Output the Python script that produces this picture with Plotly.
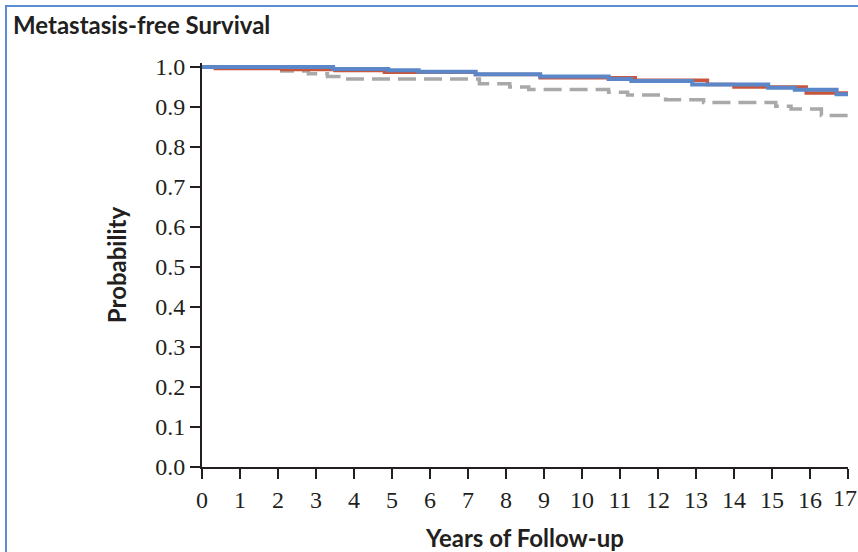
import plotly.graph_objects as go

# Data (Kaplan-Meier style step curves)
blue_t = [0, 3.45, 4.9, 5.7, 7.2, 8.9, 10.7, 11.3, 12.9, 14.9, 15.6, 16.7, 17]
blue_s = [1.0, 0.995, 0.992, 0.988, 0.982, 0.976, 0.970, 0.965, 0.956, 0.948, 0.943, 0.932, 0.932]

red_t = [0, 0.35, 2.1, 3.5, 4.8, 7.2, 8.9, 11.4, 13.3, 14.0, 15.9, 17]
red_s = [1.0, 0.996, 0.994, 0.991, 0.987, 0.981, 0.973, 0.967, 0.956, 0.950, 0.935, 0.935]

gray_t = [0, 1.0, 2.1, 2.8, 3.3, 3.6, 7.3, 8.1, 8.6, 10.7, 11.2, 12.2, 13.2, 15.1, 15.5, 16.3, 17]
gray_s = [1.0, 0.997, 0.990, 0.983, 0.976, 0.970, 0.958, 0.950, 0.944, 0.937, 0.930, 0.918, 0.911, 0.902, 0.895, 0.879, 0.879]

x_ticks = list(range(0, 18))
x_tick_text = [str(v) for v in x_ticks]
y_ticks = [round(i / 10, 1) for i in range(0, 11)]
y_tick_text = [f"{v:.1f}" for v in y_ticks]

fig = go.Figure()
fig.add_trace(go.Scatter(x=gray_t, y=gray_s, mode="lines", line_shape="hv",
                         line=dict(color="#a9a9a9", width=3.5, dash="18px,8px"), hoverinfo="skip"))
fig.add_trace(go.Scatter(x=red_t, y=red_s, mode="lines", line_shape="hv",
                         line=dict(color="#c9553c", width=3.5), hoverinfo="skip"))
fig.add_trace(go.Scatter(x=blue_t, y=blue_s, mode="lines", line_shape="hv",
                         line=dict(color="#5b87c8", width=4), hoverinfo="skip"))

L, R, T, B = 202, 10, 63, 85
W, H = 858, 552
pw, ph = W - L - R, H - T - B

def px_x(p):
    return (p - L) / pw

def px_y(p):
    return (H - B - p) / ph

fig.add_shape(type="rect", xref="paper", yref="paper",
              x0=px_x(6), x1=px_x(880), y0=px_y(580), y1=px_y(6),
              line=dict(color="#5b8bd1", width=2), fillcolor="rgba(0,0,0,0)")

tick_font = dict(family="Liberation Serif", size=24, color="#231f20")

# the last x tick label would overflow the page edge; draw it as an annotation flush with the edge
last_label = dict(text=x_tick_text[-1], xref="paper", yref="paper", x=px_x(858), y=px_y(498),
                  xanchor="right", yanchor="middle", showarrow=False,
                  font=tick_font, borderpad=0)

fig.update_layout(
    width=W, height=H,
    margin=dict(l=L, r=R, t=T, b=B, autoexpand=False),
    paper_bgcolor="white", plot_bgcolor="white",
    showlegend=False,
    annotations=[
        dict(text="<b>Metastasis-free Survival</b>", xref="paper", yref="paper",
             x=px_x(11), y=px_y(25), xanchor="left", yanchor="middle", showarrow=False,
             font=dict(family="Lato", size=24, color="#231f20")),
        last_label,
    ],
)
fig.update_xaxes(
    range=[0, 17], tickvals=x_ticks, ticktext=x_tick_text[:-1] + [""],
    showline=True, linecolor="#231f20", linewidth=2,
    ticks="outside", ticklen=10, tickwidth=2, tickcolor="#231f20",
    showgrid=False, zeroline=False, automargin=False,
    tickfont=tick_font,
    title=dict(text="<b>Years of Follow-up</b>", standoff=20,
               font=dict(family="Lato", size=24, color="#231f20")),
)
fig.update_yaxes(
    range=[0, 1.01], tickvals=y_ticks, ticktext=y_tick_text,
    showline=True, linecolor="#231f20", linewidth=2,
    ticks="outside", ticklen=10, tickwidth=2, tickcolor="#231f20",
    showgrid=False, zeroline=False, automargin=False,
    tickfont=tick_font,
    title=dict(text="<b>Probability</b>", standoff=22,
               font=dict(family="Lato", size=24, color="#231f20")),
)

fig.write_html("out.html")
